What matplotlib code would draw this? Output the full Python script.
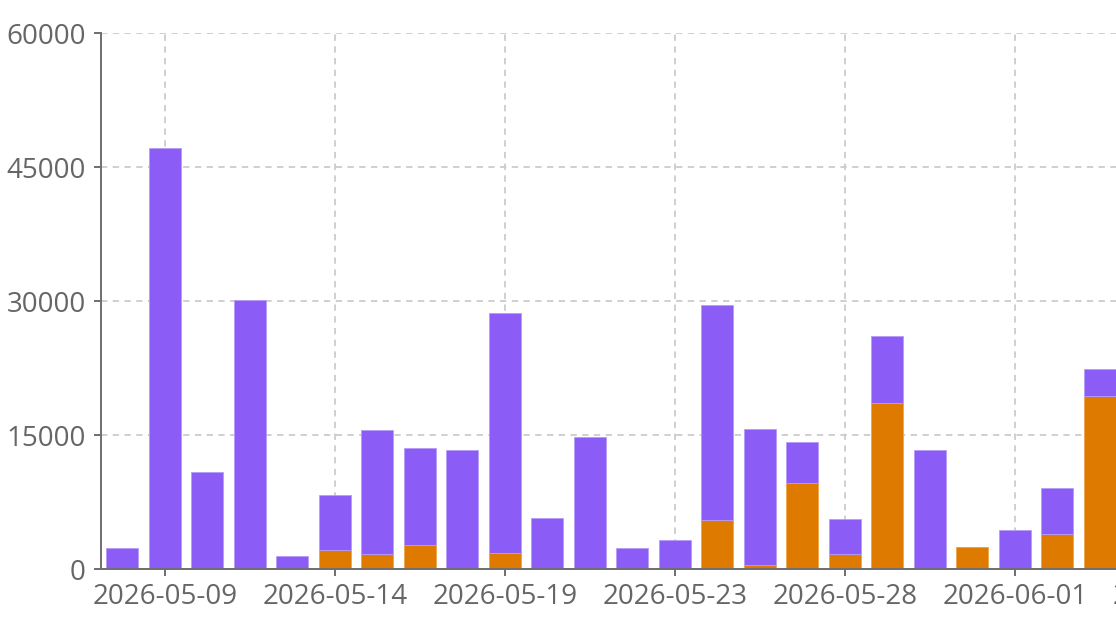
import numpy as np
import matplotlib
matplotlib.use("Agg")
import matplotlib.pyplot as plt

# categories (some days are missing in the source data)
dates = ["2026-05-08", "2026-05-09", "2026-05-10", "2026-05-11", "2026-05-12",
         "2026-05-14", "2026-05-15", "2026-05-16", "2026-05-17", "2026-05-19",
         "2026-05-20", "2026-05-21", "2026-05-22", "2026-05-23", "2026-05-24",
         "2026-05-25", "2026-05-26", "2026-05-28", "2026-05-29", "2026-05-30",
         "2026-05-31", "2026-06-01", "2026-06-02", "2026-06-03", "2026-06-04",
         "2026-06-05"]

# bottom series (orange) and top series (purple), one per visible day
orange = [0, 0, 0, 0, 0, 2150, 1750, 2750, 0, 1800,
          0, 0, 0, 0, 5500, 450, 9650, 1750, 18650, 0,
          2550, 0, 3900, 19400]
purple = [2400, 47200, 10900, 30100, 1500, 6200, 13850, 10850, 13400, 26900,
          5700, 14850, 2400, 3300, 24050, 15250, 4650, 3850, 7450, 13300,
          0, 4350, 5250, 3050]

y_ticks = [0, 15000, 30000, 45000, 60000]
label_every = 4

PURPLE = "#8b5cf6"
ORANGE = "#df7a00"
AXIS = "#6e6e6e"
TEXT = "#666666"
GRID = "#cccccc"

W, H = 1116, 624
fig = plt.figure(figsize=(W / 100, H / 100), dpi=100)
n_cat = len(dates)
band = 42.5
left_px, top_px, bottom_px = 101, 33.3, 569.3
ax = fig.add_axes([left_px / W, (H - bottom_px) / H,
                   n_cat * band / W, (bottom_px - top_px) / H])

x = np.arange(len(purple))
orange = np.array(orange)
purple = np.array(purple)
ax.bar(x, orange, width=0.75, color=ORANGE, edgecolor="#f2a54a", linewidth=0.6, zorder=3)
ax.bar(x, purple, bottom=orange, width=0.75, color=PURPLE, edgecolor="#b49cf9",
       linewidth=0.6, zorder=3)

ax.set_xlim(-0.5, n_cat - 0.5)
ax.set_ylim(0, 60000)

label_idx = list(range(1, n_cat, label_every))
ax.set_xticks(label_idx)
ax.set_xticklabels([dates[i] for i in label_idx])
ax.set_yticks(y_ticks)
ax.set_yticklabels([str(v) for v in y_ticks])

for sp in ["top", "right"]:
    ax.spines[sp].set_visible(False)
for sp in ["left", "bottom"]:
    ax.spines[sp].set_color(AXIS)
    ax.spines[sp].set_linewidth(1.4)
    ax.spines[sp].set_zorder(4)

ax.tick_params(axis="both", direction="out", length=5, width=1.4, color=AXIS,
               labelcolor=TEXT, labelsize=20)
ax.tick_params(axis="y", pad=6)
ax.tick_params(axis="x", pad=5)
for lab in ax.get_xticklabels() + ax.get_yticklabels():
    lab.set_fontfamily(["Open Sans", "DejaVu Sans"])

ax.grid(True, color=GRID, linewidth=1.3, linestyle=(0, (3.5, 3)), zorder=0)
ax.set_axisbelow(True)
# hide the gridline sitting on the zero axis
ax.yaxis.get_gridlines()[0].set_visible(False)

fig.savefig("out.png", dpi=100)
